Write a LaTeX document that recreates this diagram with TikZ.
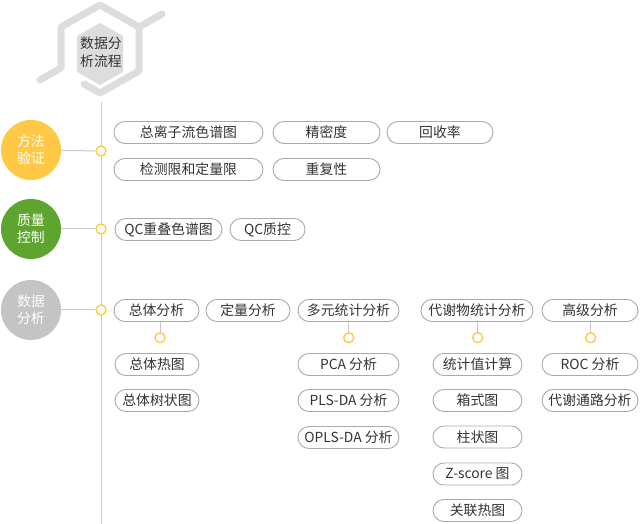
\documentclass[tikz,border=0pt]{standalone}
\usepackage{fontspec}
\setmainfont{Noto Sans CJK SC}
\usetikzlibrary{shapes.misc}
\definecolor{methodyellow}{HTML}{FFC845}
\definecolor{qcgreen}{HTML}{5DA52F}
\definecolor{datagray}{HTML}{C4C4C4}
\definecolor{hexgray}{HTML}{DDDDDD}
\definecolor{linegray}{HTML}{C8C8C8}
\definecolor{pillgray}{HTML}{ABABAB}
\definecolor{textgray}{HTML}{333333}

\begin{document}
\begin{tikzpicture}[x=0.75pt, y=-0.75pt, font=\fontsize{10.4}{12.75}\selectfont,
    pill/.style={draw=pillgray, line width=0.7pt, rounded rectangle, inner sep=0pt,
                 minimum height=16.5pt, minimum width=#1*0.75pt, text=textgray},
    stage/.style={circle, fill=#1, minimum size=45pt, inner sep=0pt, text=white, align=center},
    jn/.style={circle, draw=methodyellow, fill=white, line width=1pt, minimum size=7.5pt, inner sep=0pt},
    wire/.style={draw=linegray, line width=0.75pt}]
    \useasboundingbox (0,0) rectangle (640,524);

    % Title hexagon
    \draw[hexgray, line width=5.25pt, line cap=round, line join=round]
        (40,80) -- (61,68) -- (61,27) -- (100,5) -- (139,27) -- (139,71) -- (100,93) -- (84,84);
    \draw[hexgray, line width=5.25pt, line cap=round] (139,27) -- (162,14);
    \fill[hexgray] (100,23) -- (123,36) -- (123,72) -- (100,85) -- (77,72) -- (77,36) -- cycle;
    \node[align=center, text=textgray, font=\fontsize{10.4}{13.5}\selectfont] (title) at (101,52) {数据分\\析流程};

    % Main stem
    \coordinate (top) at (101,102);
    \coordinate (bottom) at (101,524);
    \draw[wire] (top) -- (bottom);

    % Stages
    \node[stage=methodyellow] (method) at (31,150) {方法\\验证};
    \node[stage=qcgreen] (qc) at (31,229) {质量\\控制};
    \node[stage=datagray] (data) at (31,310) {数据\\分析};

    \node[jn] (j1) at (101,151) {};
    \node[jn] (j2) at (101,229) {};
    \node[jn] (j3) at (101,310) {};
    \draw[wire] (method) -- (j1);
    \draw[wire] (qc) -- (j2);
    \draw[wire] (data) -- (j3);

    % Method validation
    \node[pill=149] (tic) at (188.5,132.5) {总离子流色谱图};
    \node[pill=107] (prec) at (326.5,132.5) {精密度};
    \node[pill=106] (recov) at (440,132.5) {回收率};
    \node[pill=149] (lod) at (188.5,169.5) {检测限和定量限};
    \node[pill=107] (repeat) at (326.5,169.5) {重复性};

    % Quality control
    \node[pill=107] (qcov) at (168.5,229.5) {QC重叠色谱图};
    \node[pill=75] (qcctl) at (267.5,229.5) {QC质控};

    % Data analysis
    \node[pill=85] (overall) at (156.5,310.5) {总体分析};
    \node[pill=84] (quant) at (248,310.5) {定量分析};
    \node[pill=101] (multi) at (348.5,310.5) {多元统计分析};
    \node[pill=112] (metab) at (477,310.5) {代谢物统计分析};
    \node[pill=96] (adv) at (590,310.5) {高级分析};

    \node[jn] (s1) at (160,337.7) {};
    \node[jn] (s2) at (348.7,337.7) {};
    \node[jn] (s3) at (477.7,337.7) {};
    \node[jn] (s4) at (590.7,337.7) {};
    \draw[wire] (s1 |- overall.south) -- (s1);
    \draw[wire] (s2 |- multi.south) -- (s2);
    \draw[wire] (s3 |- metab.south) -- (s3);
    \draw[wire] (s4 |- adv.south) -- (s4);

    \node[pill=84] (heat) at (157,364.5) {总体热图};
    \node[pill=84] (tree) at (157,400.5) {总体树状图};

    \node[pill=101] (pca) at (348.5,364.5) {PCA 分析};
    \node[pill=101] (plsda) at (348.5,400.5) {PLS-DA 分析};
    \node[pill=101] (oplsda) at (348.5,437.5) {OPLS-DA 分析};

    \node[pill=89] (stat) at (477.5,364.5) {统计值计算};
    \node[pill=89] (box) at (477.5,400.5) {箱式图};
    \node[pill=89] (bar) at (477.5,437) {柱状图};
    \node[pill=89] (zscore) at (477.5,474) {Z-score 图};
    \node[pill=89] (corr) at (477.5,510.5) {关联热图};

    \node[pill=96] (roc) at (590,364.5) {ROC 分析};
    \node[pill=96] (path) at (590,400.5) {代谢通路分析};
\end{tikzpicture}
\end{document}
